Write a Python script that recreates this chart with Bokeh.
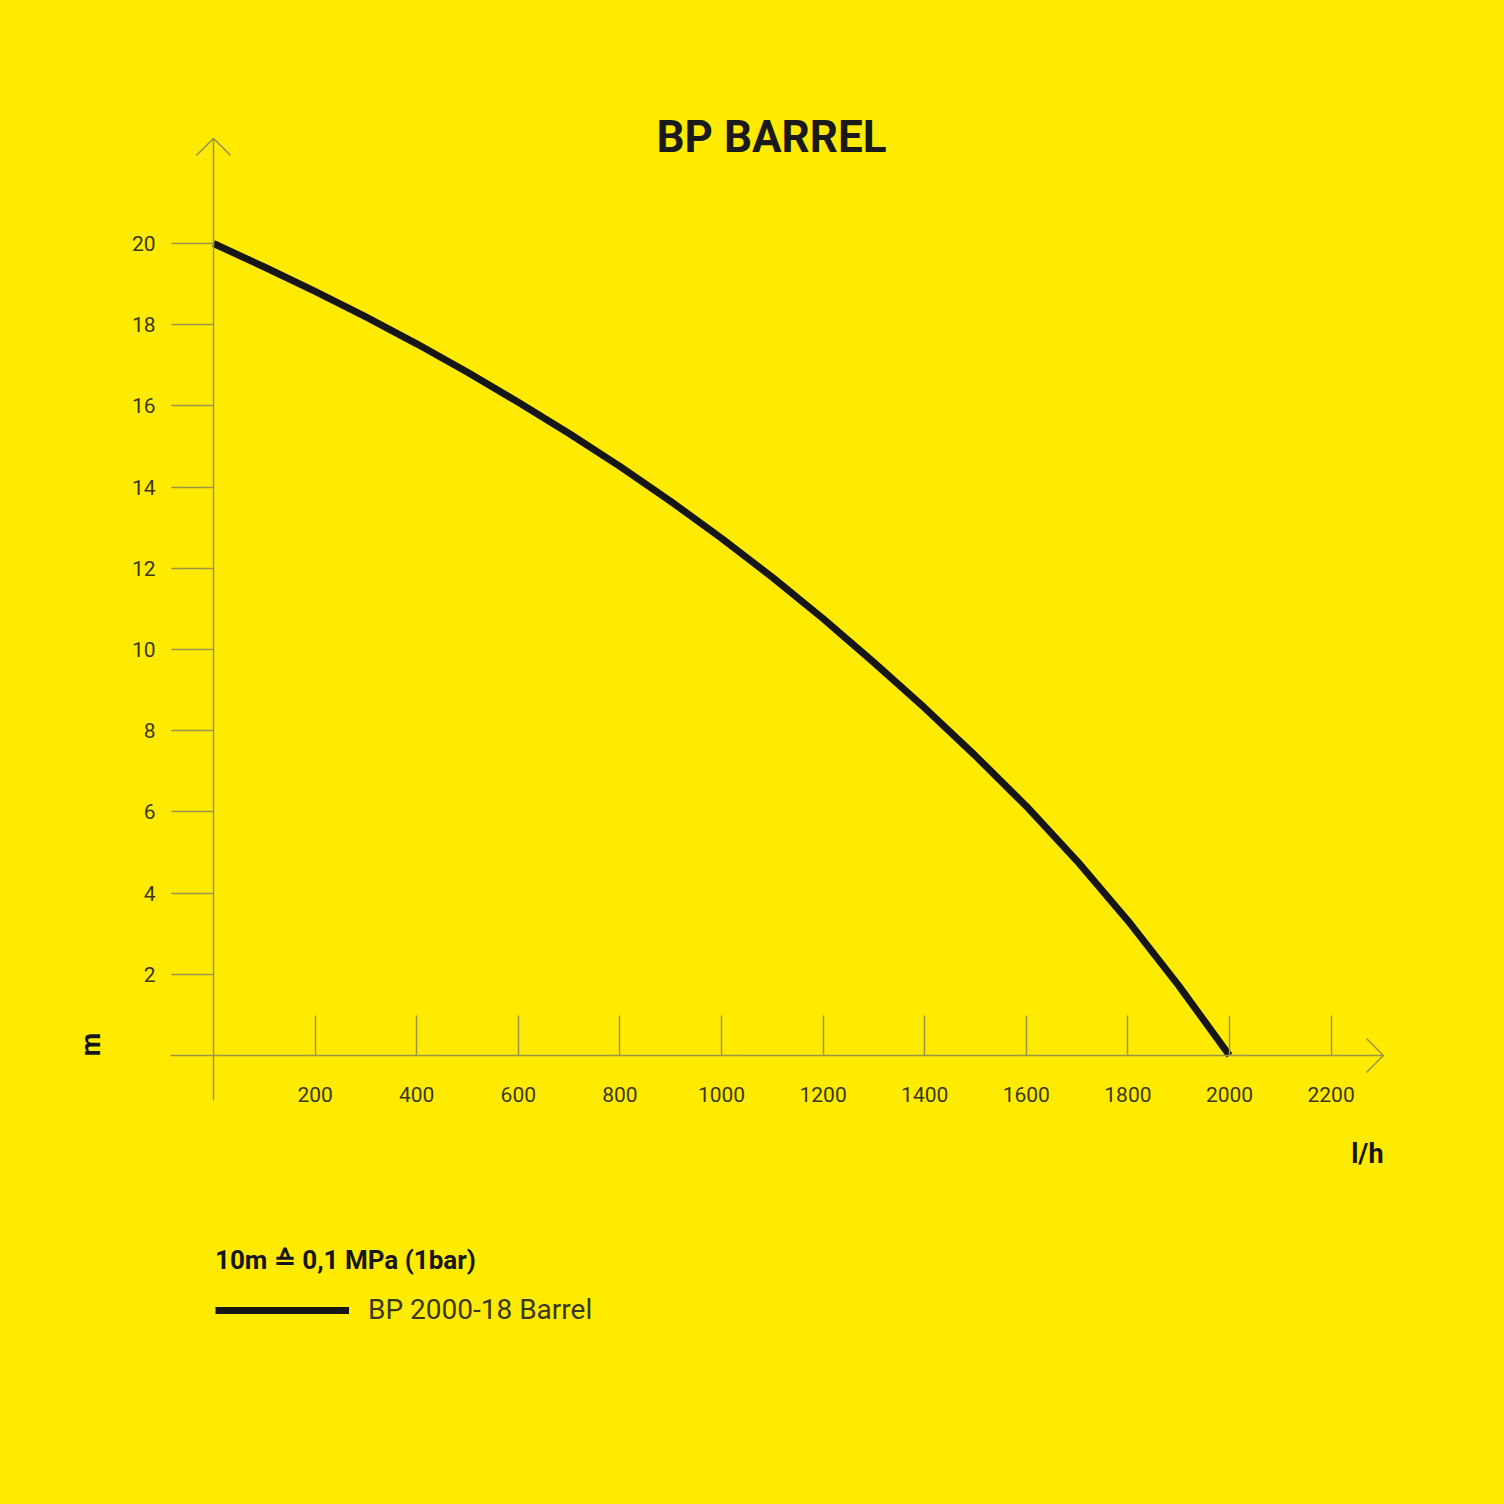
import math
from bokeh.plotting import figure
from bokeh.models import (Range1d, LinearAxis, FixedTicker, Label, Legend,
                          LegendItem, ColumnDataSource)
from bokeh.embed import file_html
from bokeh.resources import INLINE

# ---------------- data ----------------
flow = [0, 100, 200, 300, 400, 500, 600, 700, 800, 900, 1000,
        1100, 1200, 1300, 1400, 1500, 1600, 1700, 1800, 1900, 2000]      # l/h
head = [20.0, 19.42, 18.82, 18.19, 17.53, 16.83, 16.09, 15.32, 14.51, 13.65, 12.74,
        11.78, 10.76, 9.68, 8.56, 7.38, 6.14, 4.79, 3.32, 1.72, 0.0]       # m
x_ticks = [200, 400, 600, 800, 1000, 1200, 1400, 1600, 1800, 2000, 2200]
y_ticks = [2, 4, 6, 8, 10, 12, 14, 16, 18, 20]
title_text = "BP BARREL"
series_name = "BP 2000-18 Barrel"
note_text = "10m \u2259 0,1 MPa (1bar)"
x_unit = "l/h"
y_unit = "m"

# ---------------- style ----------------
YELLOW = "#FFEB00"
AXIS = "#9c9448"
TXT = "#3a3818"
DARK = "#161616"
W = H = 1488
PX_X = 0.508      # pixels per l/h
PX_Y = 40.6       # pixels per m
ORIGIN_X = 213    # frame px of x=0
ORIGIN_Y = 1055   # frame px (from top) of y=0

x0 = -ORIGIN_X / PX_X
y1 = ORIGIN_Y / PX_Y
p = figure(width=W, height=H,
           x_range=Range1d(x0, x0 + W / PX_X),
           y_range=Range1d(y1 - H / PX_Y, y1),
           output_backend="svg", toolbar_location=None,
           x_axis_type=None, y_axis_type=None, min_border=0,
           background_fill_color=YELLOW, border_fill_color=YELLOW,
           outline_line_color=None)

x_end = 2303
y_end = 22.59
xaxis = LinearAxis(fixed_location=0, bounds=(-84.6, x_end),
                   ticker=FixedTicker(ticks=x_ticks),
                   major_tick_in=40, major_tick_out=0,
                   minor_tick_in=0, minor_tick_out=0,
                   axis_line_color=AXIS, axis_line_width=1.5,
                   major_tick_line_color=AXIS, major_tick_line_width=1.5,
                   major_label_text_font="Roboto",
                   major_label_text_font_size="21px",
                   major_label_text_color=TXT,
                   major_label_standoff=31)
p.add_layout(xaxis, "below")

yaxis = LinearAxis(fixed_location=0, bounds=(-1.11, y_end),
                   ticker=FixedTicker(ticks=y_ticks),
                   major_tick_in=0, major_tick_out=42,
                   minor_tick_in=0, minor_tick_out=0,
                   axis_line_color=AXIS, axis_line_width=1.5,
                   major_tick_line_color=AXIS, major_tick_line_width=1.5,
                   major_label_text_font="Roboto",
                   major_label_text_font_size="21px",
                   major_label_text_color=TXT,
                   major_label_standoff=16)
p.add_layout(yaxis, "left")

# arrow heads (open, 90 degrees)
ah = 17
p.segment(x0=[0, 0, x_end, x_end],
          y0=[y_end, y_end, 0, 0],
          x1=[-ah / PX_X, ah / PX_X, x_end - ah / PX_X, x_end - ah / PX_X],
          y1=[y_end - ah / PX_Y, y_end - ah / PX_Y, ah / PX_Y, -ah / PX_Y],
          line_color=AXIS, line_width=1.5)

src = ColumnDataSource(dict(flow=flow, head=head))
r = p.line("flow", "head", source=src, line_color=DARK, line_width=7,
           line_join="round")

legend = Legend(items=[LegendItem(label=series_name, renderers=[r])],
                title=note_text, location=(215, 162),
                title_text_font="Roboto", title_text_font_style="bold",
                title_text_font_size="26px", title_text_color=DARK,
                title_standoff=18,
                label_text_font="Roboto", label_text_font_size="28px",
                label_text_color=TXT, label_standoff=19,
                glyph_width=134, glyph_height=30,
                padding=0, margin=0, spacing=0,
                border_line_alpha=0, background_fill_alpha=0)
p.add_layout(legend)

p.add_layout(Label(x=771, y=1352, x_units="screen", y_units="screen",
                   text=title_text, text_font="Roboto", text_font_style="bold",
                   text_font_size="44px", text_color="#1a1a1a",
                   text_align="center", text_baseline="alphabetic"))
p.add_layout(Label(x=90, y=444, x_units="screen", y_units="screen",
                   text=y_unit, angle=math.pi / 2, text_font="Roboto",
                   text_font_style="bold", text_font_size="27px",
                   text_color=DARK, text_align="center", text_baseline="middle"))
p.add_layout(Label(x=1383, y=335, x_units="screen", y_units="screen",
                   text=x_unit, text_font="Roboto", text_font_style="bold",
                   text_font_size="27px", text_color=DARK,
                   text_align="right", text_baseline="alphabetic"))

html = file_html(p, INLINE, title=title_text)
html = html.replace("</head>",
                    "<style>html,body{background-color:%s;}</style></head>" % YELLOW, 1)
open("out.html", "w").write(html)
